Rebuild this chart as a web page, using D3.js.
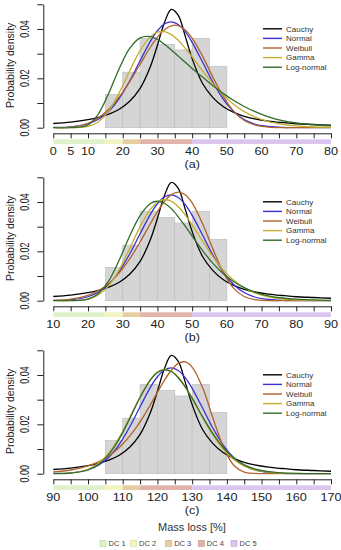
<!DOCTYPE html>
<html lang="en">
<head>
<meta charset="UTF-8">
<title>Mass loss - fitted distributions</title>
<script src="https://d3js.org/d3.v7.min.js"></script>
<style>
  body { margin: 0; background: #fff; }
  svg { display: block; font-family: "Liberation Sans", Arial, sans-serif; }
</style>
</head>
<body>
<svg width="341" height="550"></svg>
<script>
// x positions where the fitted curves were read, one list per panel
const xsA = [0, 5, 10, 13, 16, 19, 22, 25, 28, 30, 32, 34, 36, 38, 40, 43, 46, 49, 52, 55, 58, 62, 66, 70, 75, 80];
const xsB = [10, 15, 20, 23, 26, 29, 32, 35, 38, 40, 42, 44, 46, 48, 50, 53, 56, 59, 62, 65, 68, 72, 76, 80, 85, 90];
const xsC = [90, 95, 100, 103, 106, 109, 112, 115, 118, 120, 122, 124, 126, 128, 130, 133, 136, 139, 142, 145, 148, 152, 156, 160, 165, 170];

// Cauchy and Normal look the same in all three panels (just shifted)
const cauchyY = [0.0017, 0.0023, 0.0033, 0.0042, 0.0055, 0.0075, 0.0107, 0.0159, 0.0249, 0.0334, 0.0425, 0.0479, 0.0455, 0.0371, 0.0280, 0.0179, 0.0122, 0.0085, 0.0062, 0.0046, 0.0036, 0.0027, 0.0021, 0.0016, 0.0013, 0.0010];
const normalY = [0.0001, 0.0003, 0.0016, 0.0034, 0.0067, 0.0119, 0.0189, 0.0271, 0.0351, 0.0393, 0.0420, 0.0429, 0.0418, 0.0389, 0.0346, 0.0266, 0.0184, 0.0115, 0.0065, 0.0033, 0.0015, 0.0005, 0.0001, 0, 0, 0];

const weibullA = [0, 0.0002, 0.0018, 0.0040, 0.0076, 0.0125, 0.0187, 0.0257, 0.0327, 0.0367, 0.0397, 0.0413, 0.0414, 0.0396, 0.0363, 0.0290, 0.0204, 0.0126, 0.0066, 0.0029, 0.0011, 0.0002, 0, 0, 0, 0];
const gammaA = [0, 0, 0.0005, 0.0024, 0.0069, 0.0142, 0.0230, 0.0312, 0.0369, 0.0387, 0.0389, 0.0377, 0.0354, 0.0322, 0.0287, 0.0230, 0.0178, 0.0132, 0.0094, 0.0065, 0.0044, 0.0025, 0.0014, 0.0007, 0.0003, 0.0001];
const lognormA = [0, 0, 0.0011, 0.0056, 0.0141, 0.0240, 0.0321, 0.0364, 0.0369, 0.0358, 0.0338, 0.0315, 0.0290, 0.0265, 0.0240, 0.0205, 0.0170, 0.0138, 0.0110, 0.0086, 0.0066, 0.0044, 0.0029, 0.0019, 0.0012, 0.0008];

const weibullB = [0.0001, 0.0006, 0.0022, 0.0041, 0.0070, 0.0113, 0.0169, 0.0238, 0.0313, 0.0361, 0.0402, 0.0430, 0.0440, 0.0429, 0.0396, 0.0312, 0.0209, 0.0115, 0.0050, 0.0017, 0.0004, 0, 0, 0, 0, 0];
const gammaB = [0, 0, 0.0006, 0.0023, 0.0061, 0.0126, 0.0211, 0.0300, 0.0371, 0.0399, 0.0410, 0.0403, 0.0381, 0.0348, 0.0307, 0.0241, 0.0178, 0.0124, 0.0083, 0.0053, 0.0032, 0.0016, 0.0007, 0.0003, 0.0001, 0];
const lognormB = [0, 0, 0.0006, 0.0029, 0.0081, 0.0165, 0.0262, 0.0345, 0.0394, 0.0403, 0.0395, 0.0373, 0.0340, 0.0302, 0.0262, 0.0203, 0.0151, 0.0109, 0.0077, 0.0053, 0.0035, 0.0020, 0.0011, 0.0006, 0.0003, 0.0001];

const weibullC = [0.0007, 0.0015, 0.0032, 0.0048, 0.0072, 0.0106, 0.0152, 0.0210, 0.0280, 0.0330, 0.0378, 0.0419, 0.0447, 0.0453, 0.0432, 0.0349, 0.0225, 0.0108, 0.0034, 0.0006, 0.0001, 0, 0, 0, 0, 0];
const gammaC = [0, 0.0003, 0.0018, 0.0042, 0.0084, 0.0147, 0.0227, 0.0312, 0.0382, 0.0412, 0.0423, 0.0416, 0.0391, 0.0352, 0.0305, 0.0228, 0.0156, 0.0099, 0.0058, 0.0031, 0.0016, 0.0006, 0.0002, 0.0001, 0, 0];
const lognormC = [0, 0.0002, 0.0015, 0.0037, 0.0078, 0.0141, 0.0223, 0.0309, 0.0380, 0.0410, 0.0421, 0.0414, 0.0389, 0.0352, 0.0306, 0.0231, 0.0162, 0.0105, 0.0064, 0.0036, 0.0020, 0.0008, 0.0003, 0.0001, 0, 0];

// histogram (same empirical densities, bins of 5)
const histDensity = [0.0135, 0.0225, 0.0362, 0.0338, 0.0315, 0.0362, 0.0249];
const binWidth = 5;
const binStartsA = [15, 20, 25, 30, 35, 40, 45];
const binStartsB = [25, 30, 35, 40, 45, 50, 55];
const binStartsC = [105, 110, 115, 120, 125, 130, 135];

// DC class limits shown as the coloured strip under each axis
const dcA = [0, 15, 20, 25, 40, 80];
const dcB = [10, 25, 30, 35, 50, 90];
const dcC = [90, 105, 110, 115, 130, 170];
const dcNames = ["DC 1", "DC 2", "DC 3", "DC 4", "DC 5"];

const xLabelsA = [0, 5, 10, 20, 30, 40, 50, 60, 70, 80];
const xLabelsB = [10, 20, 30, 40, 50, 60, 70, 80, 90];
const xLabelsC = [90, 100, 110, 120, 130, 140, 150, 160, 170];
const yTicks = [0, 0.01, 0.02, 0.03, 0.04, 0.05];
const yLabels = [0, 0.02, 0.04];

const fitNames = ["Cauchy", "Normal", "Weibull", "Gamma", "Log-normal"];
const fitColors = ["#000000", "#3b2fd6", "#b0622c", "#c4b02e", "#2f6c2c"];
const dcColors = ["#e0f1c9", "#f3f4c0", "#e7cda2", "#e2b3aa", "#dcc5ee"];
const dcBorders = ["#b9d79c", "#d9dc96", "#c8ad7c", "#c79488", "#bda2d6"];

const svg = d3.select("svg");
const plotLeft = 53.3, plotRight = 331, axisX = 43.3, plotH = 123.4;

const panels = [
  {tag: "(a)", top: 4.3, dom: [0, 80], xs: xsA, bins: binStartsA, dc: dcA, labels: xLabelsA,
   series: [cauchyY, normalY, weibullA, gammaA, lognormA]},
  {tag: "(b)", top: 177.3, dom: [10, 90], xs: xsB, bins: binStartsB, dc: dcB, labels: xLabelsB,
   series: [cauchyY, normalY, weibullB, gammaB, lognormB]},
  {tag: "(c)", top: 350.3, dom: [90, 170], xs: xsC, bins: binStartsC, dc: dcC, labels: xLabelsC,
   series: [cauchyY, normalY, weibullC, gammaC, lognormC]}
];

panels.forEach((p, pi) => {
  const g = svg.append("g");
  const bottom = p.top + plotH;
  const x = d3.scaleLinear().domain(p.dom).range([plotLeft, plotRight]);
  const y = d3.scaleLinear().domain([0, 0.05]).range([bottom, p.top]);

  // histogram bars
  g.selectAll("rect.bar")
    .data(p.bins)
    .join("rect")
    .attr("class", "bar")
    .attr("x", d => x(d))
    .attr("width", d => x(d + binWidth) - x(d))
    .attr("y", (d, i) => y(histDensity[i]))
    .attr("height", (d, i) => bottom - y(histDensity[i]))
    .attr("fill", "#d5d5d5")
    .attr("stroke", "#bcbcbc")
    .attr("stroke-width", 0.6);

  // fitted density curves
  const clipId = "clip" + pi;
  g.append("clipPath").attr("id", clipId)
    .append("rect")
    .attr("x", plotLeft - 2).attr("y", p.top - 4)
    .attr("width", plotRight - plotLeft + 4).attr("height", plotH + 5);

  const line = d3.line()
    .x((d, i) => x(p.xs[i]))
    .y(d => y(d))
    .curve(d3.curveCatmullRom.alpha(0.5));

  g.append("g").attr("clip-path", `url(#${clipId})`)
    .selectAll("path")
    .data(p.series)
    .join("path")
    .attr("d", line)
    .attr("fill", "none")
    .attr("stroke", (d, i) => fitColors[i])
    .attr("stroke-width", 1.3);

  // legend inside the plot
  const leg = g.append("g");
  fitNames.forEach((name, i) => {
    const ly = p.top + 24.5 + i * 9.6;
    leg.append("line")
      .attr("x1", 263).attr("x2", 282)
      .attr("y1", ly).attr("y2", ly)
      .attr("stroke", fitColors[i]).attr("stroke-width", 1.4);
    leg.append("text")
      .attr("x", 286).attr("y", ly)
      .attr("dy", "0.35em")
      .attr("font-size", 8)
      .attr("fill", "#333")
      .text(name);
  });

  // y axis
  g.append("g")
    .attr("transform", `translate(${axisX},0)`)
    .call(d3.axisLeft(y).tickValues(yTicks).tickSize(6).tickSizeOuter(0).tickFormat(""))
    .call(a => a.selectAll("path, line").attr("stroke", "#222").attr("stroke-width", 1));

  g.selectAll("text.ylab")
    .data(yLabels)
    .join("text")
    .attr("class", "ylab")
    .attr("transform", d => `translate(25,${y(d)}) rotate(-90) scale(1,1.35)`)
    .attr("text-anchor", "middle")
    .attr("dy", "0.35em")
    .attr("font-size", 9)
    .attr("fill", "#222")
    .text(d3.format(".2f"));

  g.append("text")
    .attr("transform", `translate(10,${p.top + 61}) rotate(-90)`)
    .attr("text-anchor", "middle")
    .attr("dy", "0.35em")
    .attr("font-size", 10.5)
    .attr("fill", "#222")
    .text("Probability density");

  // x axis (ticks every 5)
  const xTicks = d3.range(p.dom[0], p.dom[1] + 1, 5);
  g.append("g")
    .attr("transform", `translate(0,${bottom + 5.6})`)
    .call(d3.axisBottom(x).tickValues(xTicks).tickSize(5).tickSizeOuter(0).tickFormat(""))
    .call(a => a.selectAll("path, line").attr("stroke", "#222").attr("stroke-width", 1));

  // DC colour strip
  g.selectAll("rect.dc")
    .data(p.dc.slice(0, -1))
    .join("rect")
    .attr("class", "dc")
    .attr("x", d => x(d))
    .attr("width", (d, i) => x(p.dc[i + 1]) - x(d))
    .attr("y", bottom + 11.6)
    .attr("height", 4.7)
    .attr("fill", (d, i) => dcColors[i]);

  g.selectAll("text.xlab")
    .data(p.labels)
    .join("text")
    .attr("class", "xlab")
    .attr("transform", d => `translate(${x(d)},${bottom + 27.3}) scale(1.15,1)`)
    .attr("text-anchor", "middle")
    .attr("font-size", 11)
    .attr("fill", "#222")
    .text(d => d);

  g.append("text")
    .attr("transform", `translate(${(plotLeft + plotRight) / 2},${bottom + 40}) scale(1.2,1)`)
    .attr("text-anchor", "middle")
    .attr("font-size", 10.5)
    .attr("fill", "#222")
    .text(p.tag);
});

// overall axis title and DC legend
svg.append("text")
  .attr("x", 192).attr("y", 531)
  .attr("text-anchor", "middle")
  .attr("font-size", 11)
  .attr("fill", "#333")
  .text("Mass loss [%]");

const legSquareX = [100, 130.5, 165.7, 198.3, 231];
dcNames.forEach((name, i) => {
  svg.append("rect")
    .attr("x", legSquareX[i]).attr("y", 540.3)
    .attr("width", 6).attr("height", 6)
    .attr("fill", dcColors[i])
    .attr("stroke", dcBorders[i]).attr("stroke-width", 0.6);
  svg.append("text")
    .attr("x", legSquareX[i] + 8.5).attr("y", 543.3)
    .attr("dy", "0.35em")
    .attr("font-size", 7.5)
    .attr("fill", "#444")
    .text(name);
});
</script>
</body>
</html>
